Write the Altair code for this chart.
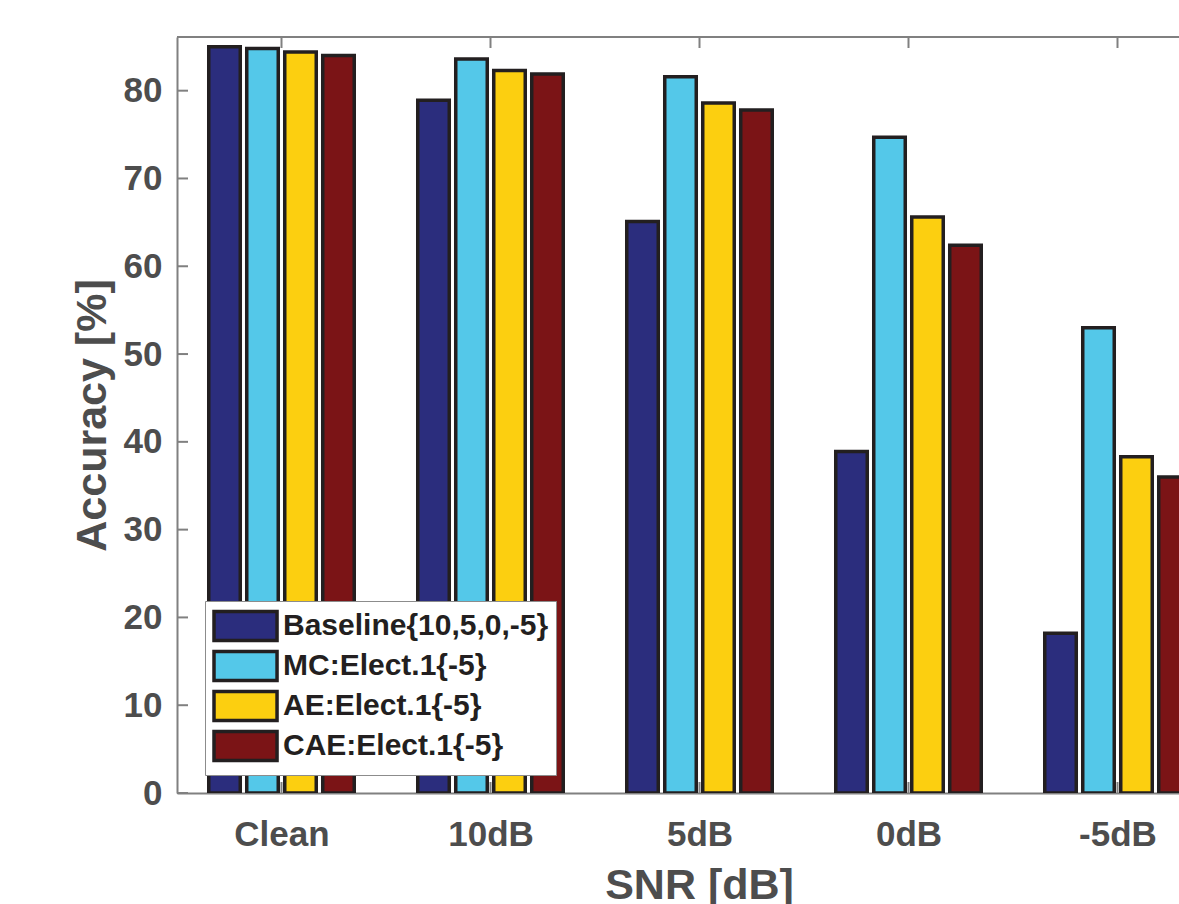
import json
import altair as alt
import pandas as pd

categories = ["Clean", "10dB", "5dB", "0dB", "-5dB"]
series = ["Baseline{10,5,0,-5}", "MC:Elect.1{-5}", "AE:Elect.1{-5}", "CAE:Elect.1{-5}"]
baseline = [85.0, 78.9, 65.1, 38.9, 18.2]
mc = [84.8, 83.6, 81.6, 74.7, 53.0]
ae = [84.4, 82.3, 78.6, 65.6, 38.3]
cae = [84.0, 81.9, 77.8, 62.4, 36.0]
colors = ["#2b2d7d", "#54c8e9", "#fccf10", "#7b1416"]
y_tick_values = [0, 10, 20, 30, 40, 50, 60, 70, 80]

rows = []
for si, (name, vals) in enumerate(zip(series, [baseline, mc, ae, cae])):
    for ci, (cat, v) in enumerate(zip(categories, vals)):
        rows.append({"series": name, "si": si, "category": cat, "ci": ci + 1, "value": v})
df = pd.DataFrame(rows)
cat_df = pd.DataFrame({"ci": list(range(1, len(categories) + 1))})
ytick_df = pd.DataFrame({"v": y_tick_values})
one_df = pd.DataFrame({"a": [0]})

W = 1002
H = 756
PX_PER_CAT = 209.0
PX_PER_UNIT_Y = 8.779

FONT = "Liberation Sans"
AXIS_GRAY = "#808080"
TEXT_GRAY = "#4d4d4d"
EDGE = "#231f20"

x_scale = alt.Scale(domain=[0.5, 0.5 + W / PX_PER_CAT], nice=False, zero=False)
y_scale = alt.Scale(domain=[0, H / PX_PER_UNIT_Y], nice=False, zero=True)

label_expr = json.dumps(categories) + "[datum.value - 1]"

x_axis = alt.Axis(
    values=list(range(1, len(categories) + 1)),
    labelExpr=label_expr,
    title="SNR [dB]",
    grid=False,
    ticks=False,
    tickSize=0,
    domain=True,
    domainColor=AXIS_GRAY,
    domainWidth=2,
    labelFont=FONT,
    labelFontSize=35,
    labelFontWeight="bold",
    labelColor=TEXT_GRAY,
    labelPadding=24,
    labelFlush=False,
    labelOverlap=False,
    titleFont=FONT,
    titleFontSize=43,
    titleFontWeight="bold",
    titleColor=TEXT_GRAY,
    titlePadding=12,
    titleX=522,
)

y_axis = alt.Axis(
    values=y_tick_values,
    title="Accuracy [%]",
    grid=False,
    ticks=False,
    tickSize=0,
    domain=True,
    domainColor=AXIS_GRAY,
    domainWidth=2,
    labelFont=FONT,
    labelFontSize=35,
    labelFontWeight="bold",
    labelColor=TEXT_GRAY,
    labelPadding=15,
    labelFlush=False,
    labelOverlap=False,
    titleFont=FONT,
    titleFontSize=43,
    titleFontWeight="bold",
    titleColor=TEXT_GRAY,
    titlePadding=9,
)

legend = alt.Legend(
    title=None,
    orient="none",
    legendX=28,
    legendY=564,
    symbolType="M-1,-0.9H2.94V0.9H-1Z",
    symbolSize=1024,
    symbolStrokeColor=EDGE,
    symbolStrokeWidth=3.5,
    symbolOpacity=1,
    labelFont=FONT,
    labelFontSize=30,
    labelFontWeight="bold",
    labelColor=EDGE,
    labelOffset=35,
    labelLimit=0,
    rowPadding=-6,
    padding=7,
    strokeColor="#8c8c8c",
    fillColor="white",
)

bars = (
    alt.Chart(df)
    .transform_calculate(xc="datum.ci + (datum.si - 1.5) * 0.1818")
    .transform_calculate(x0="datum.xc - 0.0754", x1="datum.xc + 0.0754")
    .mark_rect(clip=True, stroke=EDGE, strokeWidth=3.5, strokeJoin="miter", opacity=1)
    .encode(
        x=alt.X("x0:Q", scale=x_scale, axis=x_axis),
        x2="x1:Q",
        y=alt.Y("value:Q", scale=y_scale, axis=y_axis),
        y2=alt.datum(0),
        color=alt.Color("series:N", scale=alt.Scale(domain=series, range=colors), legend=legend),
    )
)

ytick_rules = alt.Chart(ytick_df).mark_rule(color=AXIS_GRAY, strokeWidth=2).encode(
    y=alt.Y("v:Q", scale=y_scale, axis=y_axis),
    x=alt.value(0),
    x2=alt.value(11),
)

xtick_bottom = alt.Chart(cat_df).mark_rule(color=AXIS_GRAY, strokeWidth=2).encode(
    x=alt.X("ci:Q", scale=x_scale, axis=x_axis),
    y=alt.value(H),
    y2=alt.value(H - 11),
)

xtick_top = alt.Chart(cat_df).mark_rule(color=AXIS_GRAY, strokeWidth=2).encode(
    x=alt.X("ci:Q", scale=x_scale, axis=x_axis),
    y=alt.value(0),
    y2=alt.value(11),
)

top_border = alt.Chart(one_df).mark_rule(color=AXIS_GRAY, strokeWidth=2).encode(
    x=alt.value(0),
    x2=alt.value(W),
    y=alt.value(0),
)

chart = (
    alt.layer(top_border, ytick_rules, xtick_bottom, xtick_top, bars)
    .properties(
        width=W,
        height=H,
        autosize=alt.AutoSizeParams(type="none"),
        padding={"left": 177, "top": 37, "right": 0, "bottom": 904 - 37 - H},
        background="white",
    )
    .configure_view(stroke=None)
)

chart.save("out.html", embed_options={"renderer": "svg", "actions": False})
